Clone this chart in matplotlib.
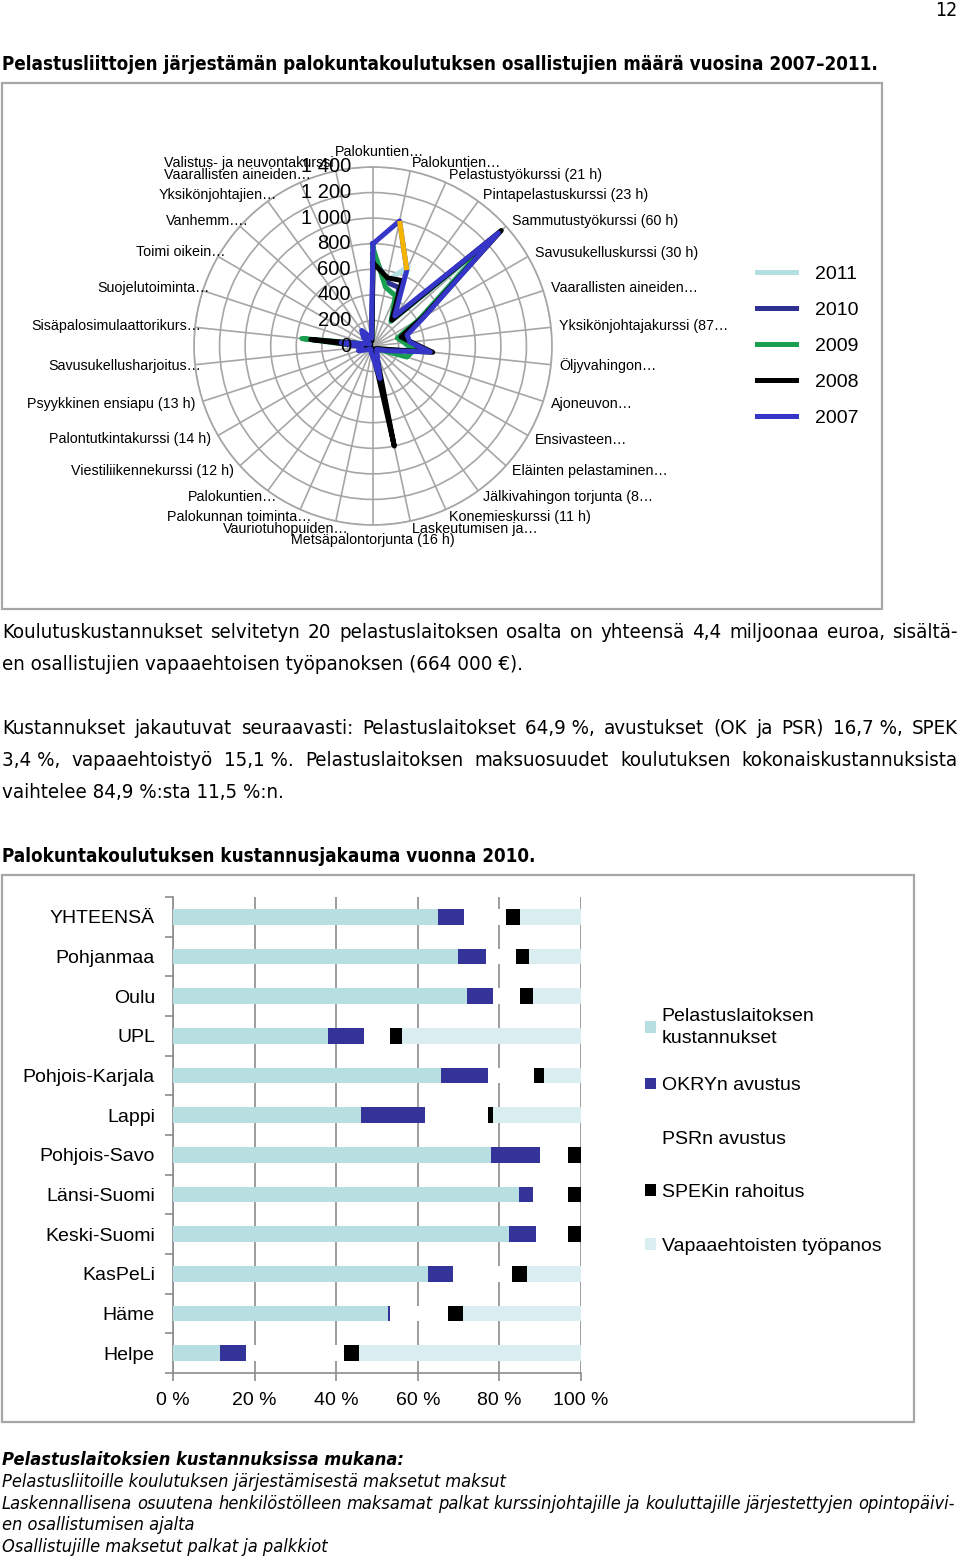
import matplotlib
matplotlib.use("Agg")
import matplotlib.pyplot as plt
import numpy as np
from matplotlib import font_manager
from matplotlib.patches import Rectangle

W, H = 960, 1560

# radar chart: participants per course, 2007-2011
courses = [
    "Palokuntien…", "Palokuntien…", "Pelastustyökurssi (21 h)",
    "Pintapelastuskurssi (23 h)", "Sammutustyökurssi (60 h)",
    "Savusukelluskurssi (30 h)", "Vaarallisten aineiden…",
    "Yksikönjohtajakurssi (87…", "Öljyvahingon…", "Ajoneuvon…",
    "Ensivasteen…", "Eläinten pelastaminen…", "Jälkivahingon torjunta (8…",
    "Konemieskurssi (11 h)", "Laskeutumisen ja…", "Metsäpalontorjunta (16 h)",
    "Vauriotuhopuiden…", "Palokunnan toiminta…", "Palokuntien…",
    "Viestiliikennekurssi (12 h)", "Palontutkintakurssi (14 h)",
    "Psyykkinen ensiapu (13 h)", "Savusukellusharjoitus…",
    "Sisäpalosimulaattorikurs…", "Suojelutoiminta…", "Toimi oikein…",
    "Vanhemm….", "Yksikönjohtajien…", "Vaarallisten aineiden…",
    "Valistus- ja neuvontakurssi",
]
years = ["2011", "2010", "2009", "2008", "2007"]
p2011 = [700, 520, 680, 240, 1150, 420, 220, 240, 300, 120, 50, 40, 40, 60, 100,
         50, 30, 30, 20, 30, 50, 90, 80, 300, 60, 40, 80, 150, 70, 50]
p2010 = [720, 510, 500, 260, 1280, 440, 250, 270, 400, 100, 50, 40, 40, 70, 200,
         60, 40, 30, 20, 30, 50, 100, 70, 300, 50, 30, 70, 120, 80, 50]
p2009 = [770, 470, 430, 240, 1250, 420, 200, 250, 320, 280, 60, 40, 30, 50, 120,
         60, 30, 20, 20, 30, 50, 80, 60, 560, 50, 30, 60, 90, 60, 40]
p2008 = [650, 545, 560, 250, 1350, 450, 230, 300, 470, 80, 40, 30, 40, 60, 800,
         50, 30, 20, 20, 30, 40, 60, 50, 490, 40, 20, 40, 80, 50, 40]
p2007 = [800, 1000, 650, 290, 1320, 470, 280, 290, 450, 120, 60, 40, 50, 80, 260,
         90, 60, 40, 30, 40, 60, 120, 90, 250, 60, 30, 100, 150, 90, 60]
year_colors = ["#b3dfe0", "#2e3192", "#1a9e50", "#000000", "#3535c8"]
ring_values = [0, 200, 400, 600, 800, 1000, 1200, 1400]
ring_labels = ["0", "200", "400", "600", "800", "1 000", "1 200", "1 400"]

# bar chart: cost shares 2010 (%)
regions = ["YHTEENSÄ", "Pohjanmaa", "Oulu", "UPL", "Pohjois-Karjala", "Lappi",
           "Pohjois-Savo", "Länsi-Suomi", "Keski-Suomi", "KasPeLi", "Häme", "Helpe"]
pelastuslaitos = [64.9, 69.8, 72.1, 38.1, 65.7, 46.0, 78.0, 84.9, 82.4, 62.6, 52.7, 11.5]
okry = [6.4, 6.9, 6.3, 8.8, 11.6, 15.8, 12.0, 3.4, 6.6, 6.1, 0.6, 6.5]
psr = [10.3, 7.3, 6.7, 6.4, 11.1, 15.3, 6.9, 8.6, 7.7, 14.5, 14.0, 24.0]
spek = [3.4, 3.3, 3.2, 2.9, 2.5, 1.4, 3.1, 3.1, 3.3, 3.6, 3.8, 3.6]
vapaaeht = [15.0, 12.7, 11.7, 43.8, 9.1, 21.5, 0.0, 0.0, 0.0, 13.2, 28.9, 54.4]
cost_names = ["Pelastuslaitoksen\nkustannukset", "OKRYn avustus", "PSRn avustus",
              "SPEKin rahoitus", "Vapaaehtoisten työpanos"]
cost_colors = ["#b7dfe2", "#333399", "#ffffff", "#000000", "#daeef1"]
pct_ticks = [0, 20, 40, 60, 80, 100]

plt.rcParams["font.family"] = ["Liberation Sans", "DejaVu Sans"]
installed = {f.name for f in font_manager.fontManager.ttflist}
if "Liberation Sans Narrow" in installed:
    body = dict(family=["Liberation Sans Narrow", "DejaVu Sans"])
else:
    body = dict(family=["DejaVu Sans"], stretch="condensed")

fig = plt.figure(figsize=(W / 100, H / 100), dpi=100)
renderer = fig.canvas.get_renderer()


def fx(x):
    return x / W


def fy(y):
    return 1 - y / H


def px_rect(x0, y0, x1, y1):
    return [fx(x0), fy(y1), (x1 - x0) / W, (y1 - y0) / H]


def fit_size(s, width, **kw):
    t = fig.text(0, 0, s, fontsize=10, **kw)
    w = t.get_window_extent(renderer).width
    t.remove()
    return 10 * width / w


def put(x, y, s, **kw):
    return fig.text(fx(x), fy(y), s, va="center", **kw)


def justify(s, y, x0, x1, **kw):
    words = s.split(" ")
    texts = [put(0, y, w, **kw) for w in words]
    widths = [t.get_window_extent(renderer).width for t in texts]
    gap = (x1 - x0 - sum(widths)) / (len(words) - 1)
    x = x0
    for t, w in zip(texts, widths):
        t.set_x(fx(x))
        x += w + gap


# page text
put(957, 11, "12", fontsize=14, ha="right", **body)
title = "Pelastusliittojen järjestämän palokuntakoulutuksen osallistujien määrä vuosina 2007–2011."
put(2, 64, title, weight="bold", fontsize=fit_size(title, 871, weight="bold", **body), **body)

p1 = ["Koulutuskustannukset selvitetyn 20 pelastuslaitoksen osalta on yhteensä 4,4 miljoonaa euroa, sisältä-",
      "en osallistujien vapaaehtoisen työpanoksen (664\u00a0000\u00a0€)."]
p2 = ["Kustannukset jakautuvat seuraavasti: Pelastuslaitokset 64,9\u00a0%, avustukset (OK ja PSR) 16,7\u00a0%, SPEK",
      "3,4\u00a0%, vapaaehtoistyö 15,1\u00a0%. Pelastuslaitoksen maksuosuudet koulutuksen kokonaiskustannuksista",
      "vaihtelee 84,9\u00a0%:sta 11,5\u00a0%:n."]
body_size = fit_size(p1[1], 521, **body)
justify(p1[0], 632, 2, 958, fontsize=body_size, **body)
put(2, 664, p1[1], fontsize=body_size, **body)
justify(p2[0], 728, 2, 958, fontsize=body_size, **body)
justify(p2[1], 760, 2, 958, fontsize=body_size, **body)
put(2, 792, p2[2], fontsize=body_size, **body)
heading = "Palokuntakoulutuksen kustannusjakauma vuonna 2010."
put(2, 856, heading, weight="bold", fontsize=fit_size(heading, 531, weight="bold", **body), **body)

notes = ["Pelastusliitoille koulutuksen järjestämisestä maksetut maksut",
         "Laskennallisena osuutena henkilöstölleen maksamat palkat kurssinjohtajille ja kouluttajille järjestettyjen opintopäivi-",
         "en osallistumisen ajalta",
         "Osallistujille maksetut palkat ja palkkiot"]
note_size = fit_size(notes[0], 503, style="italic", **body)
put(2, 1460, "Pelastuslaitoksien kustannuksissa mukana:", style="italic", weight="bold",
    fontsize=note_size, **body)
put(2, 1482, notes[0], style="italic", fontsize=note_size, **body)
justify(notes[1], 1504, 2, 955, style="italic", fontsize=note_size, **body)
put(2, 1525, notes[2], style="italic", fontsize=note_size, **body)
put(2, 1547, notes[3], style="italic", fontsize=note_size, **body)

# chart frames
for x0, y0, x1, y1 in [(2, 83, 882, 609), (2, 875, 914, 1422)]:
    fig.add_artist(Rectangle((fx(x0), fy(y1)), (x1 - x0) / W, (y1 - y0) / H,
                             transform=fig.transFigure, fill=False,
                             ec="#a6a6a6", lw=1.6))

# radar chart
cx, cy, R = 373, 346, 179
ax = fig.add_axes(px_rect(cx - R, cy - R, cx + R, cy + R), projection="polar")
theta = np.deg2rad(np.arange(len(courses)) * 360 / len(courses))
ax.set_theta_zero_location("N")
ax.set_theta_direction(-1)
ax.set_ylim(0, 1400)
ax.set_yticks(ring_values)
ax.set_yticklabels([])
ax.set_xticks(theta)
ax.set_xticklabels([])
ax.grid(color="#a6a6a6", lw=1.2)
ax.spines["polar"].set_color("#a6a6a6")
ax.spines["polar"].set_linewidth(1.2)

series = [p2011, p2010, p2009, p2008, p2007]
tt = np.append(theta, theta[0])
for vals, year, col in zip(series, years, year_colors):
    vv = np.append(vals, vals[0])
    ax.plot(tt, vv, color=col, lw=3.6, label=year, solid_joinstyle="round")
# the 2007 line is shown orange between the 2nd and 3rd course
ax.plot(theta[1:3], p2007[1:3], color="#f5b400", lw=3.6, solid_capstyle="butt")

for v, lab in zip(ring_values, ring_labels):
    ax.annotate(lab, xy=(0, v), xytext=(-22, 0), textcoords="offset pixels",
                ha="right", va="center", fontsize=14.5, annotation_clip=False)

for th, name in zip(theta, courses):
    s, c = np.sin(th), np.cos(th)
    # truncated labels keep the full label's box, so they sit a bit to the right
    nudge = 14 if name.rstrip(".").endswith("…") else 0
    if abs(s) < 0.05:
        ha = "center"
        va = "bottom" if c > 0 else "top"
        nudge = nudge / 2
    elif s > 0:
        ha, va, nudge = "left", "center", 0
    else:
        ha, va = "right", "center"
    ax.annotate(name, xy=(th, 1400), xytext=(8 * s + nudge, 8 * c),
                textcoords="offset pixels", ha=ha, va=va, fontsize=10.3,
                annotation_clip=False)

ax.legend(loc="center left", bbox_to_anchor=(fx(757), fy(346)),
          bbox_transform=fig.transFigure, frameon=False, fontsize=14,
          borderpad=0, borderaxespad=0, handlelength=2.0, handletextpad=1.0,
          labelspacing=0.95)

# bar chart
bx = fig.add_axes(px_rect(173, 897, 581, 1373))
ypos = np.arange(len(regions))
parts = [pelastuslaitos, okry, psr, spek, vapaaeht]
left = np.zeros(len(regions))
bars = []
for vals, name, col in zip(parts, cost_names, cost_colors):
    b = bx.barh(ypos, vals, left=left, height=0.4, color=col, label=name, zorder=3)
    bars.append(b)
    left += np.array(vals)

bx.set_xlim(0, 100)
bx.set_ylim(len(regions) - 0.5, -0.5)
bx.set_xticks(pct_ticks)
bx.set_xticklabels([f"{p} %" for p in pct_ticks], fontsize=14)
bx.set_yticks(ypos)
bx.set_yticklabels(regions, fontsize=14)
bx.set_yticks(np.arange(len(regions) + 1) - 0.5, minor=True)
bx.tick_params(axis="y", which="major", length=0, pad=13)
bx.tick_params(axis="y", which="minor", length=6, color="#8c8c8c", width=1.2)
bx.tick_params(axis="x", length=6, color="#8c8c8c", width=1.2, pad=8)
bx.grid(axis="x", color="#8c8c8c", lw=1.2, zorder=0)
bx.set_axisbelow(True)
for side in ["top", "right"]:
    bx.spines[side].set_visible(False)
for side in ["left", "bottom"]:
    bx.spines[side].set_color("#8c8c8c")
    bx.spines[side].set_linewidth(1.2)

leg1 = bx.legend([bars[0]], [cost_names[0]], loc="upper left",
                 bbox_to_anchor=(fx(645), fy(1008)), bbox_transform=fig.transFigure,
                 frameon=False, fontsize=14, borderpad=0, borderaxespad=0,
                 handlelength=0.55, handleheight=0.55, handletextpad=0.3)
for t in leg1.get_texts():
    t.set_linespacing(1.35)
bx.add_artist(leg1)
bx.legend(bars[1:], cost_names[1:], loc="center left",
          bbox_to_anchor=(fx(645), fy(1166)), bbox_transform=fig.transFigure,
          frameon=False, fontsize=14, borderpad=0, borderaxespad=0,
          handlelength=0.55, handleheight=0.55, handletextpad=0.3, labelspacing=1.87)

fig.savefig("out.png", dpi=100)
